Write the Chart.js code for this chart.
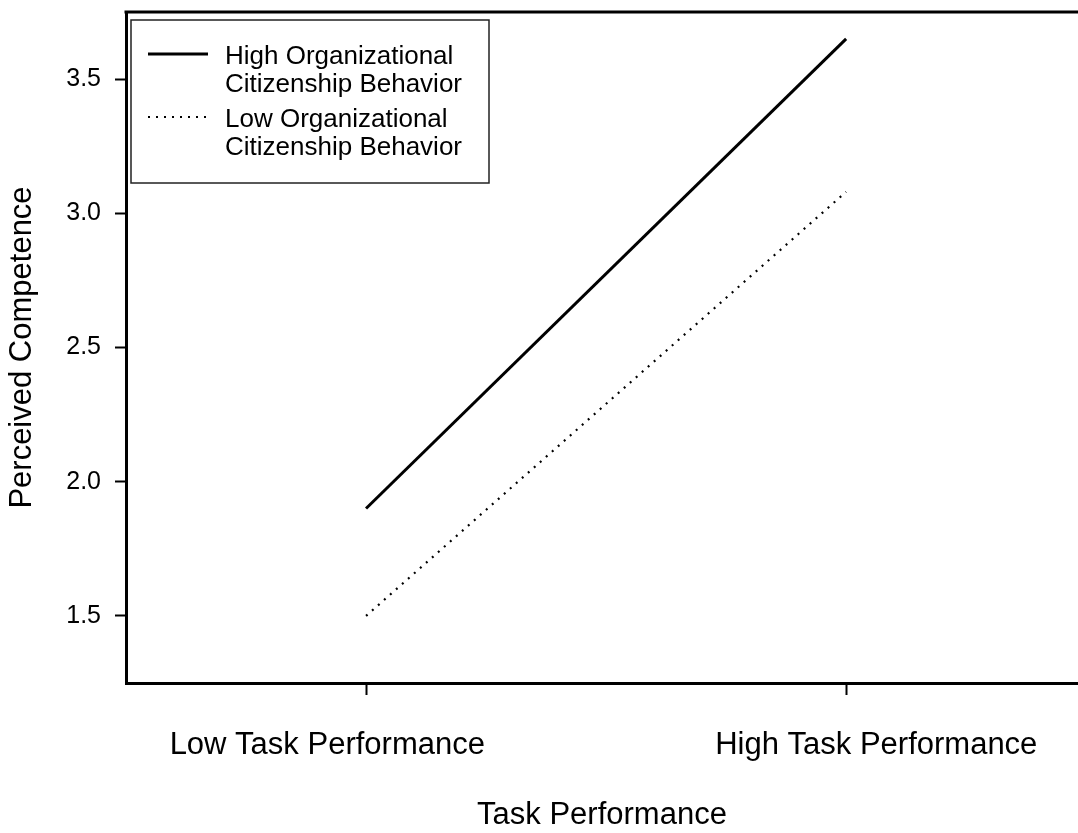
<!DOCTYPE html>
<html>
<head>
<meta charset="utf-8">
<script src="https://cdn.jsdelivr.net/npm/chart.js@4.4.1/dist/chart.umd.min.js"></script>
<style>
    body { margin: 0; background: #fff; }
    #wrap { width: 1078px; height: 833px; position: relative; }
</style>
</head>
<body>
<div id="wrap"><canvas id="interactionChart"></canvas></div>
<script>
// Datos
const categories = ['Low Task Performance', 'High Task Performance'];
const xPositions = [0, 1];
const highOCB = [1.9, 3.65];
const lowOCB = [1.5, 3.08];
const yTicks = [1.5, 2.0, 2.5, 3.0, 3.5];
const seriesNames = ['High Organizational\nCitizenship Behavior', 'Low Organizational\nCitizenship Behavior'];

const FONT = "'Liberation Sans', Arial, sans-serif";

// Las etiquetas del eje X no quedan centradas en el tick en el original
const labelPad = [{ before: 0, after: 9 }, { before: 7, after: 0 }];

// Borde superior del área de trazado
const topBorder = {
    id: 'topBorder',
    afterDraw(chart) {
        const { ctx, chartArea } = chart;
        ctx.save();
        ctx.strokeStyle = '#000';
        ctx.lineWidth = 3;
        ctx.beginPath();
        ctx.moveTo(chartArea.left - 1.5, chartArea.top);
        ctx.lineTo(chartArea.right, chartArea.top);
        ctx.stroke();
        ctx.restore();
    }
};

// Leyenda con recuadro y etiquetas en dos líneas
const boxLegend = {
    id: 'boxLegend',
    afterDraw(chart) {
        const { ctx, chartArea } = chart;
        const x0 = chartArea.left + 5;
        const y0 = chartArea.top + 8;
        ctx.save();
        ctx.strokeStyle = '#222';
        ctx.lineWidth = 1.5;
        ctx.strokeRect(x0, y0, 358, 163);

        ctx.font = '26px ' + FONT;
        ctx.fillStyle = '#000';
        ctx.textBaseline = 'middle';
        ctx.textAlign = 'left';
        chart.data.datasets.forEach((ds, i) => {
            const ty = y0 + 37 + i * 63;
            ctx.strokeStyle = ds.borderColor;
            ctx.lineWidth = ds.borderWidth;
            ctx.setLineDash(ds.borderDash || []);
            ctx.beginPath();
            ctx.moveTo(x0 + 17, ty - 3);
            ctx.lineTo(x0 + 77, ty - 3);
            ctx.stroke();
            ctx.setLineDash([]);
            ds.label.split('\n').forEach((line, j) => {
                ctx.fillText(line, x0 + 94, ty + j * 28);
            });
        });
        ctx.restore();
    }
};

const ctx = document.getElementById('interactionChart').getContext('2d');
const interactionChart = new Chart(ctx, {
    type: 'line',
    data: {
        datasets: [
            {
                label: seriesNames[0],
                data: xPositions.map((x, i) => ({ x: x, y: highOCB[i] })),
                borderColor: '#000',
                borderWidth: 3,
                pointRadius: 0,
                tension: 0
            },
            {
                label: seriesNames[1],
                data: xPositions.map((x, i) => ({ x: x, y: lowOCB[i] })),
                borderColor: '#000',
                borderWidth: 2.2,
                borderDash: [2, 6],
                borderCapStyle: 'butt',
                pointRadius: 0,
                tension: 0
            }
        ]
    },
    options: {
        responsive: true,
        maintainAspectRatio: false,
        animation: false,
        layout: { padding: { top: 12, right: 0, left: 0, bottom: 0 } },
        scales: {
            x: {
                type: 'linear',
                min: -0.5,
                max: 1.483,
                afterFit: scale => {
                    scale.height = 150;
                    scale.paddingLeft = 0;
                    scale.paddingRight = 0;
                },
                afterBuildTicks: scale => {
                    scale.ticks = xPositions.map(v => ({ value: v }));
                },
                border: { display: true, color: '#000', width: 3 },
                grid: {
                    drawOnChartArea: false,
                    drawTicks: true,
                    tickLength: 12,
                    tickWidth: 2,
                    tickColor: '#000'
                },
                ticks: {
                    color: '#000',
                    font: { family: FONT, size: 31 },
                    padding: 32,
                    maxRotation: 0,
                    autoSkip: false,
                    callback: function(value) {
                        const i = xPositions.indexOf(value);
                        if (i < 0) return '';
                        return ' '.repeat(labelPad[i].before) + categories[i] + ' '.repeat(labelPad[i].after);
                    }
                },
                title: {
                    display: true,
                    text: 'Task Performance',
                    color: '#000',
                    font: { family: FONT, size: 31, lineHeight: 1.1 },
                    padding: { top: 0, bottom: 0 }
                }
            },
            y: {
                min: 1.25,
                max: 3.75,
                afterFit: scale => {
                    scale.width = 126;
                    scale.paddingTop = 0;
                    scale.paddingBottom = 0;
                },
                afterBuildTicks: scale => {
                    scale.ticks = yTicks.map(v => ({ value: v }));
                },
                border: { display: true, color: '#000', width: 3 },
                grid: {
                    drawOnChartArea: false,
                    drawTicks: true,
                    tickLength: 11,
                    tickWidth: 2,
                    tickColor: '#000'
                },
                ticks: {
                    color: '#000',
                    font: { family: FONT, size: 25 },
                    padding: 14,
                    callback: value => value.toFixed(1)
                },
                title: {
                    display: true,
                    text: 'Perceived Competence',
                    color: '#000',
                    font: { family: FONT, size: 31 },
                    padding: { top: 4, bottom: 0 }
                }
            }
        },
        plugins: {
            legend: { display: false },
            tooltip: { enabled: false }
        }
    },
    plugins: [topBorder, boxLegend]
});
</script>
</body>
</html>
